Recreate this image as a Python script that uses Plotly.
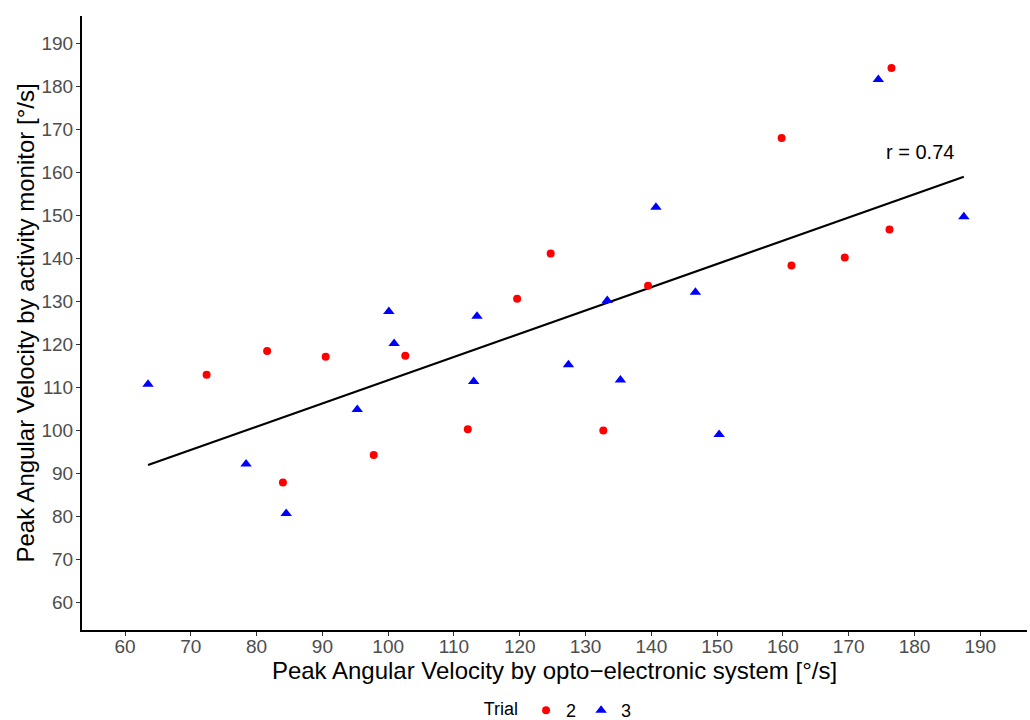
import numpy as np
import plotly.graph_objects as go

# Trial 2 (red circles)
t2_x = [72.4, 81.6, 84.0, 90.5, 97.8, 102.6, 112.1, 119.6, 124.7, 132.7, 139.5, 159.8, 161.3, 169.4, 176.2, 176.5]
t2_y = [112.9, 118.4, 87.8, 117.1, 94.2, 117.3, 100.2, 130.6, 141.1, 99.9, 133.6, 168.0, 138.3, 140.2, 146.7, 184.3]
# Trial 3 (blue triangles)
t3_x = [63.5, 78.4, 84.5, 95.3, 100.1, 100.9, 113.0, 113.5, 127.4, 133.3, 135.3, 140.7, 146.7, 150.3, 174.5, 187.5]
t3_y = [110.7, 92.1, 80.6, 104.8, 127.6, 120.2, 111.3, 126.5, 115.2, 130.2, 111.7, 151.9, 132.1, 99.0, 181.6, 149.7]

x_ticks = list(range(60, 200, 10))
y_ticks = list(range(60, 200, 10))
r_label = "r = 0.74"

all_x = np.array(t2_x + t3_x)
all_y = np.array(t2_y + t3_y)
slope, intercept = np.polyfit(all_x, all_y, 1)
line_x = np.array([all_x.min(), all_x.max()])
line_y = slope * line_x + intercept

FONT = "Liberation Sans, Arial, sans-serif"

fig = go.Figure()
fig.add_trace(go.Scatter(x=line_x, y=line_y, mode="lines",
                         line=dict(color="black", width=2.2), showlegend=False, hoverinfo="skip"))
fig.add_trace(go.Scatter(x=t2_x, y=t2_y, mode="markers", name="2",
                         marker=dict(symbol="circle", color="#FF0000", size=8)))
fig.add_trace(go.Scatter(x=t3_x, y=t3_y, mode="markers", name="3",
                         marker=dict(symbol="triangle-up", color="#0000FF", size=10)))

fig.add_annotation(x=180.9, y=164.7, text=r_label, showarrow=False,
                   font=dict(family=FONT, size=20, color="black"))

axis_common = dict(
    showgrid=False, zeroline=False, showline=True, linecolor="black", linewidth=2,
    ticks="outside", ticklen=4, tickwidth=1, tickcolor="#333333",
    tickfont=dict(family=FONT, size=19, color="#4D4D4D"),
)
fig.update_xaxes(range=[53.46, 197.1], tickvals=x_ticks, ticklabelstandoff=-6,
                 title=dict(text="Peak Angular Velocity by opto\u2212electronic system [\u00b0/s]",
                            font=dict(family=FONT, size=24, color="black"), standoff=0),
                 **axis_common)
fig.update_yaxes(range=[53.49, 196.4], tickvals=y_ticks, ticklabelstandoff=-1,
                 title=dict(text="Peak Angular Velocity by activity monitor [\u00b0/s]",
                            font=dict(family=FONT, size=24, color="black"), standoff=0),
                 **axis_common)

fig.update_layout(
    width=1030, height=720,
    margin=dict(l=82, r=3, t=16, b=90, autoexpand=False),
    plot_bgcolor="white", paper_bgcolor="white",
    font=dict(family=FONT),
    legend=dict(orientation="h", x=0.505, xanchor="center", y=-0.131, yanchor="middle",
                title=dict(text="Trial", font=dict(family=FONT, size=18, color="black"), side="left"),
                font=dict(family=FONT, size=18, color="black"), itemwidth=30),
)

fig.write_html("out.html", config={"displayModeBar": False},
               post_script="document.body.style.margin='0';")
